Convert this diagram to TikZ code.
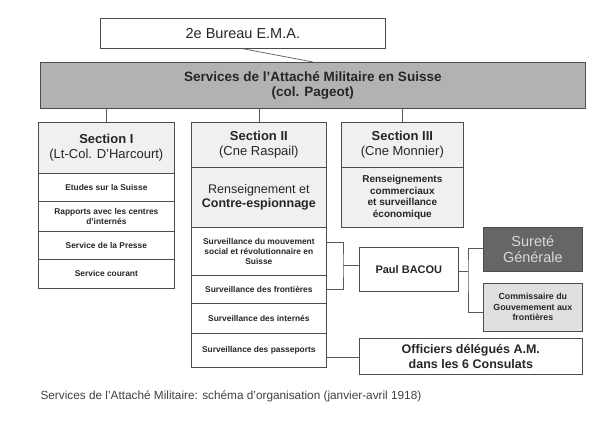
\documentclass[tikz,border=0pt]{standalone}
\usepackage{fontspec}
\setmainfont{Liberation Sans}
\begin{document}
\begin{tikzpicture}[x=1pt,y=-1pt,
 bx/.style={draw=black!70,line width=0.7pt,anchor=north west,inner sep=1pt,align=center,text=black!85},
 hd/.style={bx,fill=black!6,font=\fontsize{13}{14.5}\selectfont},
 sm/.style={bx,font=\bfseries\fontsize{8.4}{10}\selectfont},
 ln/.style={draw=black!65,line width=0.7pt}]
\useasboundingbox (0,0) rectangle (613,427);
\node[bx,minimum width=285pt,minimum height=30pt,font=\fontsize{14.5}{16}\selectfont] (bur) at (100,18) {2e Bureau E.M.A.};
\node[bx,fill=black!30,minimum width=545pt,minimum height=46pt,font=\bfseries\fontsize{13.5}{15.5}\selectfont] (srv) at (40,62) {Services de l'Attaché Militaire en Suisse\\(col. Pageot)};
% Section I
\node[hd,minimum width=136pt,minimum height=51pt] (s1) at (38,122) {\textbf{Section I}\\(Lt-Col. D'Harcourt)};
\node[sm,minimum width=136pt,minimum height=28pt] (s1a) at (38,173) {Etudes sur la Suisse};
\node[sm,minimum width=136pt,minimum height=30pt] (s1b) at (38,201) {Rapports avec les centres\\d'internés};
\node[sm,minimum width=136pt,minimum height=28pt] (s1c) at (38,231) {Service de la Presse};
\node[sm,minimum width=136pt,minimum height=29pt] (s1d) at (38,259) {Service courant};
% Section II
\node[hd,minimum width=135pt,minimum height=45pt] (s2) at (191,122) {\textbf{Section II}\\(Cne Raspail)};
\node[hd,font=\fontsize{12.5}{14}\selectfont,minimum width=135pt,minimum height=60pt] (s2a) at (191,167) {Renseignement et\\\textbf{Contre-espionnage}};
\node[sm,minimum width=135pt,minimum height=48pt] (s2b) at (191,227) {Surveillance du mouvement\\social et révolutionnaire en\\Suisse};
\node[sm,minimum width=135pt,minimum height=28pt] (s2c) at (191,275) {Surveillance des frontières};
\node[sm,minimum width=135pt,minimum height=30pt] (s2d) at (191,303) {Surveillance des internés};
\node[sm,minimum width=135pt,minimum height=34pt] (s2e) at (191,333) {Surveillance des passeports};
% Section III
\node[hd,minimum width=122pt,minimum height=45pt] (s3) at (341,122) {\textbf{Section III}\\(Cne Monnier)};
\node[bx,fill=black!6,font=\bfseries\fontsize{10}{11.5}\selectfont,minimum width=122pt,minimum height=60pt] (s3a) at (341,167) {Renseignements\\commerciaux\\et surveillance\\économique};
% right side
\node[bx,font=\bfseries\fontsize{11}{13}\selectfont,minimum width=99pt,minimum height=44pt] (pb) at (359,247) {Paul BACOU};
\node[bx,fill=black!60,text=black!15,font=\fontsize{14.5}{16.5}\selectfont,minimum width=99pt,minimum height=44pt] (sg) at (483,227) {Sureté\\Générale};
\node[bx,fill=black!12,font=\bfseries\fontsize{8.8}{10.5}\selectfont,minimum width=99pt,minimum height=48pt] (cg) at (483,283) {Commissaire du\\Gouvemement aux\\frontières};
\node[bx,font=\bfseries\fontsize{12.5}{14.5}\selectfont,minimum width=223pt,minimum height=36pt] (of) at (359,338) {Officiers délégués A.M.\\dans les 6 Consulats};
% connectors
\draw[ln] (bur.south) -- (srv.north);
\draw[ln] (s1.north) -- (s1.north |- srv.south);
\draw[ln] (s2.north) -- (s2.north |- srv.south);
\draw[ln] (s3.north) -- (s3.north |- srv.south);
\coordinate (j1) at (343,265);
\draw[ln] (s2b.east |- 0,242) -| (j1) |- (s2c.east |- 0,289);
\draw[ln] (j1) -- (j1 -| pb.west);
\coordinate (j2) at (468,271);
\draw[ln] (pb.east |- j2) -- (j2);
\draw[ln] (sg.west |- 0,248) -| (j2) |- (cg.west |- 0,312);
\draw[ln] (s2e.east |- 0,357) -- (of.west |- 0,357);
\node[anchor=west,text=black!75,font=\fontsize{11.8}{13}\selectfont] (cap) at (37,396) {Services de l'Attaché Militaire: schéma d'organisation (janvier-avril 1918)};
\end{tikzpicture}
\end{document}
